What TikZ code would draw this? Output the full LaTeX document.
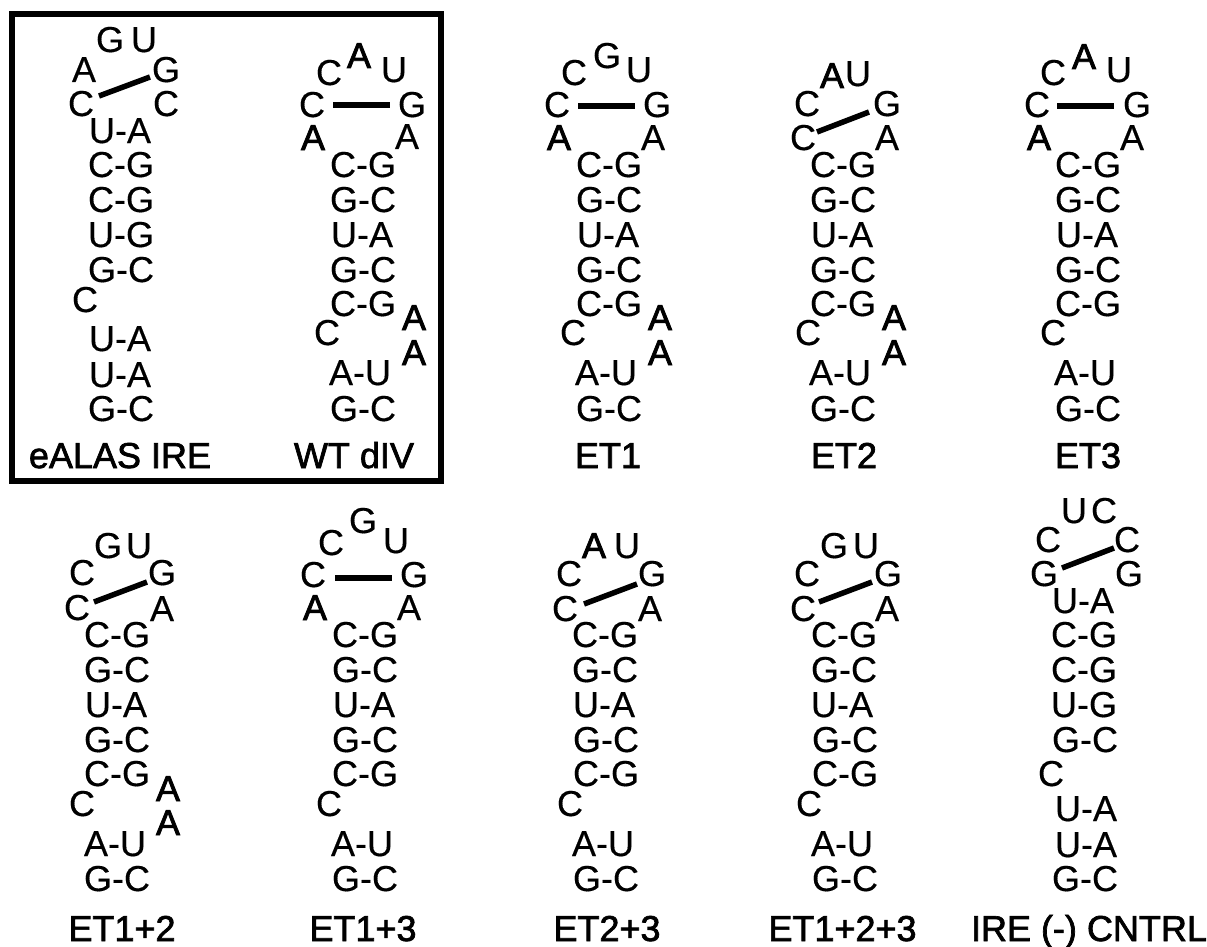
\documentclass[tikz,border=0pt]{standalone}
\usepackage{fontspec}
\setmainfont[FakeBold=0.4]{Liberation Sans}
\newfontfamily\heavyface[FakeBold=2.2]{Liberation Sans}
\newfontfamily\capface[FakeBold=1.9]{Liberation Sans}
\tikzset{
  x=1pt,y=-1pt,
  lett/.style={inner sep=0pt,outer sep=0pt,anchor=base,text height=26pt,text depth=0pt,
    font=\fontsize{36}{36}\selectfont},
  heavy/.style={lett,font=\fontsize{36}{36}\heavyface},
  caption/.style={lett,font=\fontsize{36}{36}\capface},
  bond/.style={line width=5.5pt,black},
  frame/.style={draw=black,line width=6pt,inner sep=0pt,minimum width=429pt,minimum height=466.5pt}
}
% #1 prefix, #2 list id/x/y/text
\newcommand{\Plain}[2]{\foreach \n/\x/\y/\t in {#2}{\node[lett] (#1\n) at (\x,\y) {\t};}}
\newcommand{\Heavy}[2]{\foreach \n/\x/\y/\t in {#2}{\node[heavy] (#1\n) at (\x,\y) {\t};}}
% bond: node a, offset from its centre, node b, offset from its centre
\newcommand{\Bond}[6]{\draw[bond] ([shift={(#2,#3)}]#1.center) -- ([shift={(#5,#6)}]#4.center);}
\begin{document}
\begin{tikzpicture}
\useasboundingbox (0,0) rectangle (1207,947);
\fill[white] (0,0) rectangle (1207,947);
\node[frame] (box) at (226.5,247.25) {};

% eALAS IRE
\Plain{a}{g/110/52/G,u/144/52/U,l/84/82/A,r/166/82/G,cl/81/116/C,cr/166/116/C,
 s1/120/143/U-A,s2/121/177/C-G,s3/121/212/C-G,s4/121/247/U-G,s5/121/282/G-C,
 b/85/312/C,s6/120/351/U-A,s7/120/387/U-A,s8/121/421/G-C}
\node[caption] (alab) at (120,468) {eALAS IRE};
\Bond{acl}{18}{-7}{ar}{-16}{8}

% WT dIV
\Plain{w}{c/329/85/C,u/394/82/U,cl/312/117/C,gr/412/117/G,ar/407/149/A,
 s1/363/177/C-G,s2/363/212/G-C,s3/362/247/U-A,s4/363/282/G-C,s5/363/316/C-G,
 b/327/345/C,s6/360/385/A-U,s7/363/421/G-C}
\Heavy{w}{t/359/68/A,al/313/150/A,x1/414/330/A,x2/414/365/A}
\node[caption] (wlab) at (354,468) {WT dIV};
\Bond{wcl}{21}{1}{wgr}{-22}{1}

% ET1
\Plain{e}{c/574/85/C,t/607/68/G,u/639/82/U,cl/557/117/C,gr/657/117/G,ar/653/150/A,
 s1/609/177/C-G,s2/609/212/G-C,s3/608/247/U-A,s4/609/282/G-C,s5/609/316/C-G,
 b/573/345/C,s6/606/385/A-U,s7/609/421/G-C}
\Heavy{e}{al/559/150/A,x1/660/330/A,x2/660/365/A}
\node[caption] (elab) at (608,468) {ET1};
\Bond{ecl}{21}{2}{egr}{-22}{2}

% ET2
\Plain{f}{u/858/86/U,c/807/116/C,gr/887/116/G,cl/803/150/C,ar/887/150/A,
 s1/843/177/C-G,s2/843/212/G-C,s3/842/247/U-A,s4/843/282/G-C,s5/843/316/C-G,
 b/808/345/C,s6/840/385/A-U,s7/843/421/G-C}
\Heavy{f}{t/832/88/A,x1/894/330/A,x2/894/365/A}
\node[caption] (flab) at (844,468) {ET2};
\Bond{fcl}{14}{-5}{fgr}{-18}{9}

% ET3
\Plain{h}{c/1053/85/C,u/1119/82/U,cl/1037/117/C,gr/1137/117/G,ar/1132/150/A,
 s1/1088/177/C-G,s2/1088/212/G-C,s3/1087/247/U-A,s4/1088/282/G-C,s5/1088/316/C-G,
 b/1053/345/C,s6/1085/385/A-U,s7/1088/421/G-C}
\Heavy{h}{t/1084/69/A,al/1039/150/A}
\node[caption] (hlab) at (1088,468) {ET3};
\Bond{hcl}{20}{2}{hgr}{-23}{2}

% ET1+2
\Plain{i}{t/108/558/G,u/139/558/U,c/82/585/C,gr/162/585/G,cl/77/620/C,ar/162/621/A,
 s1/117/647/C-G,s2/117/682/G-C,s3/116/717/U-A,s4/117/752/G-C,s5/117/786/C-G,
 b/82/816/C,s6/115/856/A-U,s7/117/891/G-C}
\Heavy{i}{x1/168/801/A,x2/168/835/A}
\node[caption] (ilab) at (122,941) {ET1+2};
\Bond{icl}{17}{-5}{igr}{-15}{10}

% ET1+3
\Plain{j}{t/363/533/G,c/331/555/C,u/396/553/U,cl/313/587/C,gr/414/587/G,ar/409/620/A,
 s1/365/647/C-G,s2/365/682/G-C,s3/364/717/U-A,s4/365/752/G-C,s5/365/786/C-G,
 b/329/816/C,s6/362/856/A-U,s7/365/891/G-C}
\Heavy{j}{al/315/620/A}
\node[caption] (jlab) at (363,941) {ET1+3};
\Bond{jcl}{22}{4}{jgr}{-22}{4}

% ET2+3
\Plain{k}{u/627/558/U,c/569/586/C,gr/652/586/G,cl/565/621/C,ar/650/621/A,
 s1/605/647/C-G,s2/605/682/G-C,s3/604/717/U-A,s4/606/752/G-C,s5/606/786/C-G,
 b/570/816/C,s6/603/856/A-U,s7/606/891/G-C}
\Heavy{k}{t/594/558/A}
\node[caption] (klab) at (607,941) {ET2+3};
\Bond{kcl}{19}{-4}{kgr}{-15}{11}

% ET1+2+3
\Plain{m}{t/834/558/G,u/866/558/U,c/807/586/C,gr/888/586/G,cl/803/621/C,ar/887/621/A,
 s1/844/647/C-G,s2/844/682/G-C,s3/842/717/U-A,s4/845/752/G-C,s5/845/786/C-G,
 b/809/816/C,s6/842/856/A-U,s7/845/891/G-C}
\node[caption] (mlab) at (842.5,941) {ET1+2+3};
\Bond{mcl}{16}{-6}{mgr}{-16}{9}

% IRE (-) CNTRL
\Plain{n}{u/1074/523/U,t/1104/523/C,c/1048/552/C,r/1127/552/C,gl/1044/586/G,gr/1129/586/G,
 s1/1083/613/U-A,s2/1084/647/C-G,s3/1084/682/C-G,s4/1084/717/U-G,s5/1085/752/G-C,
 b/1051/786/C,s6/1086/821/U-A,s7/1086/857/U-A,s8/1085/891/G-C}
\node[caption] (nlab) at (1089,941) {IRE (-) CNTRL};
\Bond{ngl}{18}{-5}{nr}{-13}{9}
\end{tikzpicture}
\end{document}
